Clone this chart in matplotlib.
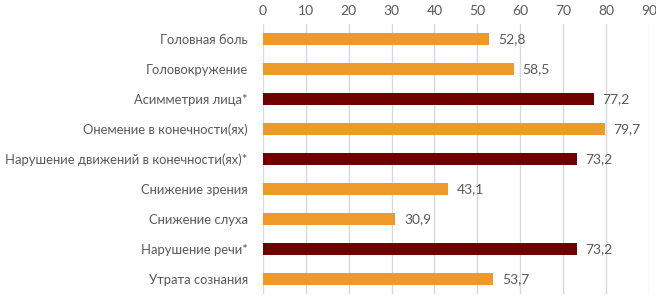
import matplotlib
matplotlib.use('Agg')
import matplotlib.pyplot as plt

categories = ['Головная боль', 'Головокружение', 'Асимметрия лица*',
              'Онемение в конечности(ях)', 'Нарушение движений в конечности(ях)*',
              'Снижение зрения', 'Снижение слуха', 'Нарушение речи*', 'Утрата сознания']
values = [52.8, 58.5, 77.2, 79.7, 73.2, 43.1, 30.9, 73.2, 53.7]
highlight = [False, False, True, False, True, False, False, True, False]
ticks = list(range(0, 100, 10))

ORANGE = '#EE9A2B'
DARKRED = '#6E0000'
TXT = '#595959'

plt.rcParams['font.family'] = ['Lato', 'DejaVu Sans']

fig = plt.figure(figsize=(6.56, 2.96), dpi=100)
ax = fig.add_axes([0.401, 0.007, 0.588, 0.912])

colors = [DARKRED if h else ORANGE for h in highlight]
y = list(range(len(categories)))
ax.barh(y, values, height=0.38, color=colors, zorder=3)

for yi, v in zip(y, values):
    ax.text(v + 2.0, yi, f'{v:.1f}'.replace('.', ','), va='center', ha='left',
            fontsize=10, color=TXT)

ax.set_xlim(0, 90)
ax.set_ylim(len(categories) - 0.5, -0.5)
ax.set_xticks(ticks)
ax.xaxis.tick_top()
ax.tick_params(axis='x', length=0, pad=5, labelsize=10, labelcolor=TXT)
ax.set_yticks(y)
ax.set_yticklabels(categories)
ax.tick_params(axis='y', length=0, pad=11, labelsize=9.4, labelcolor=TXT)
ax.grid(axis='x', color='#D9D9D9', linewidth=1, zorder=0)
for s in ax.spines.values():
    s.set_visible(False)

fig.savefig('out.png', dpi=100)
